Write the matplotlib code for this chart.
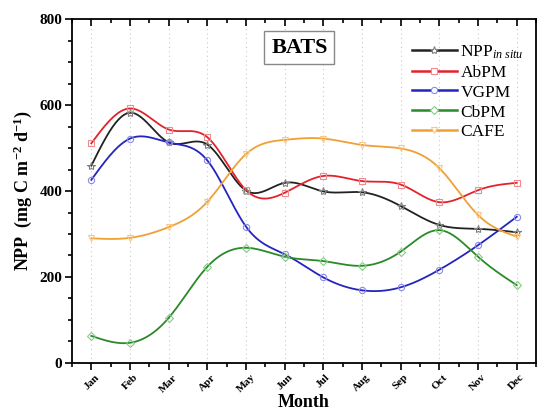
import numpy as np
import matplotlib
matplotlib.use('Agg')
import matplotlib.pyplot as plt
from matplotlib.ticker import MultipleLocator

# Datos (mg C m-2 d-1)
months = ['Jan', 'Feb', 'Mar', 'Apr', 'May', 'Jun',
          'Jul', 'Aug', 'Sep', 'Oct', 'Nov', 'Dec']
npp_insitu = [459, 582, 513, 508, 401, 419, 399, 397, 365, 321, 312, 304]
abpm = [511, 592, 543, 525, 402, 396, 435, 423, 415, 374, 402, 419]
vgpm = [426, 522, 513, 471, 317, 253, 199, 169, 176, 217, 274, 340]
cbpm = [63, 47, 105, 224, 268, 247, 237, 226, 259, 309, 247, 181]
cafe = [290, 291, 316, 375, 486, 519, 522, 507, 499, 453, 344, 294]

plt.rcParams['font.family'] = ['Liberation Serif', 'DejaVu Serif']
plt.rcParams['mathtext.fontset'] = 'custom'
plt.rcParams['mathtext.rm'] = 'Liberation Serif'
plt.rcParams['mathtext.it'] = 'Liberation Serif:italic'
plt.rcParams['mathtext.bf'] = 'Liberation Serif:bold'


def spline(x, y, n=300):
    # spline cubica natural, solo para dibujar la curva suave
    x = np.asarray(x, float); y = np.asarray(y, float)
    k = len(x); h = np.diff(x)
    A = np.zeros((k, k)); b = np.zeros(k)
    A[0, 0] = A[-1, -1] = 1
    for i in range(1, k - 1):
        A[i, i-1] = h[i-1]; A[i, i] = 2*(h[i-1] + h[i]); A[i, i+1] = h[i]
        b[i] = 6*((y[i+1]-y[i])/h[i] - (y[i]-y[i-1])/h[i-1])
    M = np.linalg.solve(A, b)
    xs = np.linspace(x[0], x[-1], n)
    j = np.clip(np.searchsorted(x, xs) - 1, 0, k - 2)
    t1 = x[j+1] - xs; t0 = xs - x[j]; hj = h[j]
    ys = (M[j]*t1**3 + M[j+1]*t0**3)/(6*hj) + (y[j]/hj - M[j]*hj/6)*t1 \
        + (y[j+1]/hj - M[j+1]*hj/6)*t0
    return xs, ys


x = np.arange(1, 13)
series = [(npp_insitu, 'NPP$_{\\mathit{in\\ situ}}$', '#222222', '#808080', '*'),
          (abpm, 'AbPM', '#e2232b', '#f08a8f', 's'),
          (vgpm, 'VGPM', '#2424c0', '#8a8aea', 'o'),
          (cbpm, 'CbPM', '#2a8a2a', '#86cc86', 'D'),
          (cafe, 'CAFE', '#f0a035', '#f6c987', 'v')]

fig = plt.figure(figsize=(5.39, 4.18), dpi=100)
ax = fig.add_axes([0.1336, 0.1316, 0.861, 0.8229])

for xv in x:
    ax.axvline(xv, color='#c8c8c8', ls=(0, (1, 3)), lw=0.8, zorder=0)

for vals, lab, c, mc, mk in series:
    xs, ys = spline(x, vals)
    ax.plot(xs, ys, '-', color=c, lw=1.3, zorder=2)
    ms = 6 if mk == '*' else 4.5
    ax.plot(x, vals, ls='none', marker=mk, ms=ms, mfc='none', mec=mc,
            mew=0.8, zorder=3)
    ax.plot([], [], '-', color=c, lw=1.8, marker=mk, ms=ms, mfc='white',
            mec=mc, mew=0.8, label=lab)

ax.set_xlim(0.5, 12.5)
ax.set_ylim(0, 800)
ax.set_xticks(x)
ax.set_xticklabels(months, rotation=45, fontsize=8, fontweight='bold')
ax.xaxis.set_minor_locator(MultipleLocator(0.5))
ax.set_yticks(np.arange(0, 801, 200))
ax.yaxis.set_minor_locator(MultipleLocator(50))
for lbl in ax.get_yticklabels():
    lbl.set_fontweight('bold'); lbl.set_fontsize(11)

ax.tick_params(axis='x', which='both', direction='out', top=True, width=1.2)
ax.tick_params(axis='x', which='major', length=5, pad=2)
ax.tick_params(axis='x', which='minor', length=3)
ax.tick_params(axis='y', which='major', direction='out', length=5, width=1.2, pad=2)
ax.tick_params(axis='y', which='minor', direction='out', length=3, width=1.2)
for sp in ax.spines.values():
    sp.set_linewidth(1.3)
# ticks superiores hacia dentro
for t in ax.xaxis.get_major_ticks() + ax.xaxis.get_minor_ticks():
    t.tick2line.set_marker(matplotlib.lines.TICKDOWN)

ax.set_xlabel('Month', fontsize=13, fontweight='bold', labelpad=0)
ax.set_ylabel('NPP  (mg C m$^{\\mathbf{-2}}$ d$^{\\mathbf{-1}}$)', fontsize=13,
              fontweight='bold', labelpad=4)

ax.text(0.49, 0.917, 'BATS', transform=ax.transAxes, fontsize=16,
        fontweight='bold', ha='center', va='center',
        bbox=dict(boxstyle='square,pad=0.3', fc='white', ec='#888888', lw=1))

ax.legend(loc='upper right', bbox_to_anchor=(1.0, 0.965), frameon=False,
          fontsize=12.5, handlelength=2.6, handletextpad=0.2, labelspacing=0.22,
          borderaxespad=0.3)

fig.savefig('out.png', dpi=100)
